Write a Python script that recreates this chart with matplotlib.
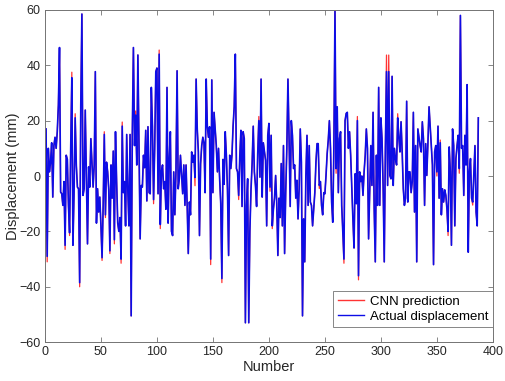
import numpy as np
import matplotlib
matplotlib.use('Agg')
import matplotlib.pyplot as plt

plt.rcParams['font.family'] = ['Liberation Sans', 'DejaVu Sans']

# Actual displacement (mm), sample 1..387
actual = [
    17, -29, 10, 1.5, 5, 12, -7.6, 11, 14, 10,
    16, 25.6, 46.4, -5.8, -6.4, -10.6, -2, -25, 7.5, 6,
    -10.6, -20.5, 10, 35.5, -25, -6, 21, 4, -4, -4.6,
    -38.5, 25.6, 58.5, -7, -4.6, 23.8, -1, -24.5, 3.3, -4,
    13.5, 5, -4, 4, 37.7, -17, -4.6, -13, -7.6, -18,
    -29.5, -10.6, 15, -14, 5, 1.5, -5, -27, 4, -8,
    9, -23, 16, -2, -17, -20, -15, -30, 18, -6,
    -2, -18, 15, -5, -18, 15, -50.5, 15, 46.4, 11,
    22, 4, 43.7, 11, -22.7, -3.4, -4, 7.5, 3, 16.5,
    -9, 17.8, -6, -6.4, 32, 18, -8.5, 10, 37.7, 39,
    -6.4, 44, -17.5, 1.5, 4, -4.6, -2, -12, 32, -17,
    6.3, 16, -20, -21.5, 1.5, -14, 1.5, 38, -4.6, -1,
    7.5, 0.2, -6.4, 4, -10.6, 4, -10.6, -28, -9.4, -14,
    8.7, 5, 7.5, -0.5, 35, 17, 8.7, -21.5, 4.4, 11,
    14, 12, -6, 35, 18, 14, 17.8, -30, 34.7, -6,
    23, 17, 11, 1.5, 10, -1, -10, -37, 6, -3,
    16, 7.5, -5, -28.7, 7.5, 2.7, 7.5, 18, 25, 44,
    2.7, 1.5, -7, 7, 16.5, -11, 16, 13.5, -53, -10.6,
    -1, -53, -20, -5, 4.5, 18, 1.5, -3.4, -11, 8,
    20, -0.4, 35, -7.6, 12, 8.7, 5.7, -18, 14.7, 19,
    -4, 14.7, -18, -12, -8, 0.2, -10, -28.7, -8, -15,
    4.5, -18, 11, -28, -6, 10, 35, 13.5, -11, 20,
    14.7, 2.7, 4, -8, -1.5, -15.5, -4.6, 17, 5, -50.5,
    -15.5, -31, 0, 14.7, -10.6, 11, -9.4, -10.6, -18, -12,
    -6, 5, 11.7, 11.7, -3.4, -2, -10.6, -14, -6, -6.4,
    0.2, 8, 13, 20, 10, -9.4, -16.7, 10, 59.5, 2.7,
    25, -6, 13.5, 16, -10.6, -20, -30, 20, 22.6, 23,
    10, 16, 7.5, -4.6, -15.5, -26, 0.8, -10, 20, -36,
    1.5, -2, 0, -7, 1.5, 7.5, 17, 10, -22.7, -6,
    11, -3.4, 23, -12, -31, 7.5, -10.6, 32, -10.6, 21,
    13.5, -4, -31, 10, 37.7, -3.4, 37.7, 0.2, -1, 36,
    -3.4, 10, 6.3, 4, 21, 14, 8.7, 19.6, 8.7, -4.6,
    -10.6, -8, 27, -9.4, 1.5, 1.5, -6, -2, 23, -13,
    11, -31, 17, 14, 11, 8.7, 19.6, 13.5, -10.6, 11.7,
    0.2, 12, 25, 18, 11, 4, -32, 8.7, 11, 1.5,
    18, -8, 12, -14, -4.6, -9.4, -5, -7, -12, -20,
    10.5, 1.5, -25, 17, 11, -18, 6.3, 11, 14.7, 2.7,
    58, 10, 11, -7, 14.7, 4, 33, -27.5, 1.5, 6.3,
    -8, -9.4, 0.8, 11, -13, -18, 21,
]

# samples where the CNN prediction visibly departs from the actual curve
pred_idx = [2, 18, 22, 24, 27, 31, 51, 53, 54, 58, 62, 68, 69, 81, 97,
            102, 103, 134, 148, 158, 173, 191, 201, 203, 225, 245, 259,
            260, 267, 279, 280, 305, 307, 315, 326, 350, 353, 360, 370, 382]
pred_val = [-31, -26.5, -21.5, 37.5, 22.5, -40, -30.5, 16, -15, -28, -24.5,
            -31.5, 19.5, 23.5, -10, 45.5, -19, -3.5, -32, -38.5, -8.5, 21.5,
            -5.5, -19, -3, -4.5, 61, 1, -31.5, 21.5, -37.5, 43.7, 43.7, 22.5,
            0, 0, 13, -21.5, 1, -10.5]

number = np.arange(1, len(actual) + 1)
prediction = np.array(actual, dtype=float)
prediction[np.array(pred_idx) - 1] = pred_val

fig = plt.figure(figsize=(5.05, 3.81), dpi=100)
ax = fig.add_axes([0.089, 0.102, 0.887, 0.872])

ax.plot(number, prediction, color=(1, 0.2, 0.2), linewidth=0.9, label='CNN prediction')
ax.plot(number, actual, color=(0.05, 0.05, 0.9), linewidth=1.2, label='Actual displacement')

ax.set_xlim(0, 400)
ax.set_ylim(-60, 60)
ax.set_xticks(np.arange(0, 401, 50))
ax.set_yticks(np.arange(-60, 61, 20))
ax.set_xlabel('Number', fontsize=10.5, color='0.15', labelpad=1)
ax.set_ylabel('Displacement (mm)', fontsize=10.5, color='0.15', labelpad=0)

ax.tick_params(direction='in', length=3.5, width=0.6, top=True, right=True,
               labelsize=9, colors='0.45', labelcolor='0.15', pad=3)
for s in ax.spines.values():
    s.set_color('0.45')
    s.set_linewidth(0.7)

leg = ax.legend(loc='lower right', bbox_to_anchor=(0.9995, 0.045),
                fontsize=9.5, fancybox=False, framealpha=1,
                edgecolor='0.45', handlelength=2.0, borderpad=0.35,
                labelspacing=0.2, handletextpad=0.4, borderaxespad=0)
leg.get_frame().set_linewidth(0.6)
for line in leg.get_lines():
    line.set_linewidth(1.0)

fig.savefig('out.png', dpi=100)
